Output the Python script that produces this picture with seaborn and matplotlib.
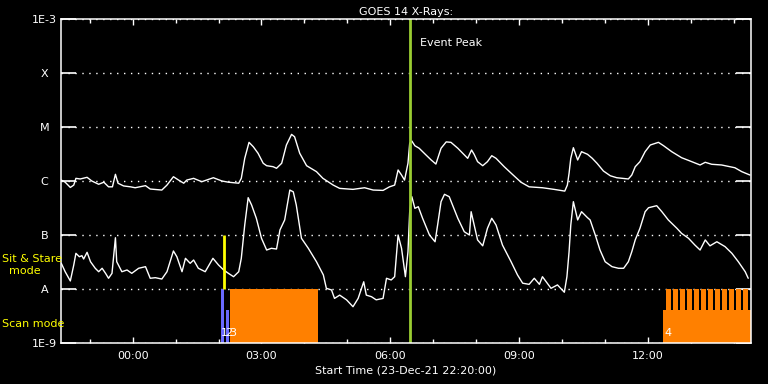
import numpy as np
import pandas as pd
import seaborn as sns
import matplotlib.pyplot as plt
from matplotlib.ticker import MultipleLocator

# times are hours after 00:00 on 24-Dec-21, flux in W/m^2
long_t = [-1.66, -1.57, -1.45, -1.37, -1.32, -1.22, -1.06, -0.95, -0.79, -0.67,
          -0.56, -0.47, -0.40, -0.34, -0.21, -0.05, 0.06, 0.30, 0.41, 0.68,
          0.80, 0.95, 1.07, 1.19, 1.26, 1.42, 1.61, 1.88, 2.08, 2.23,
          2.47, 2.53, 2.61, 2.71, 2.81, 2.92, 3.04, 3.12, 3.27, 3.35,
          3.47, 3.58, 3.70, 3.77, 3.89, 4.05, 4.28, 4.43, 4.67, 4.82,
          5.13, 5.40, 5.60, 5.83, 5.98, 6.10, 6.18, 6.26, 6.33, 6.41,
          6.45, 6.50, 6.57, 6.67, 6.83, 6.95, 7.06, 7.18, 7.30, 7.41,
          7.57, 7.80, 7.89, 7.95, 8.03, 8.15, 8.26, 8.36, 8.46, 8.65,
          8.84, 9.04, 9.23, 9.54, 9.81, 10.06, 10.12, 10.16, 10.20, 10.26,
          10.36, 10.45, 10.59, 10.70, 10.81, 10.96, 11.12, 11.27, 11.54, 11.62,
          11.70, 11.81, 11.93, 12.05, 12.24, 12.36, 12.55, 12.78, 12.98, 13.21,
          13.33, 13.48, 13.71, 14.02, 14.18, 14.37]
long_flux = [1.04e-6, 9.5e-7, 7.6e-7, 8.4e-7, 1.12e-6, 1.09e-6, 1.17e-6, 1.0e-6, 8.7e-7, 9.5e-7,
             7.8e-7, 7.8e-7, 1.33e-6, 9.1e-7, 8.1e-7, 7.8e-7, 7.5e-7, 8.2e-7, 7.1e-7, 6.8e-7,
             8.4e-7, 1.2e-6, 1.04e-6, 9.1e-7, 1.04e-6, 1.12e-6, 9.7e-7, 1.15e-6, 1.0e-6, 9.5e-7,
             9.1e-7, 1.12e-6, 2.63e-6, 5.2e-6, 4.3e-6, 3.26e-6, 2.13e-6, 1.92e-6, 1.84e-6, 1.72e-6,
             2.13e-6, 4.64e-6, 7.3e-6, 6.6e-6, 3.26e-6, 1.92e-6, 1.49e-6, 1.12e-6, 8.4e-7, 7.3e-7,
             7.0e-7, 7.5e-7, 6.8e-7, 6.7e-7, 7.8e-7, 8.4e-7, 1.6e-6, 1.29e-6, 1.04e-6, 2.13e-6,
             5.0e-6, 5.5e-6, 4.5e-6, 4.04e-6, 3.03e-6, 2.45e-6, 2.06e-6, 4.04e-6, 5.3e-6, 5.2e-6,
             4.04e-6, 2.63e-6, 3.75e-6, 3.12e-6, 2.28e-6, 1.92e-6, 2.28e-6, 2.94e-6, 2.63e-6, 1.84e-6,
             1.33e-6, 9.5e-7, 7.8e-7, 7.5e-7, 7.0e-7, 6.5e-7, 8.4e-7, 1.39e-6, 2.63e-6, 4.14e-6,
             2.45e-6, 3.49e-6, 3.12e-6, 2.63e-6, 2.13e-6, 1.53e-6, 1.25e-6, 1.15e-6, 1.09e-6, 1.29e-6,
             1.84e-6, 2.28e-6, 3.49e-6, 4.64e-6, 5.2e-6, 4.5e-6, 3.49e-6, 2.7e-6, 2.34e-6, 1.98e-6,
             2.22e-6, 2.04e-6, 1.98e-6, 1.76e-6, 1.49e-6, 1.29e-6]

short_t = [-1.66, -1.57, -1.45, -1.37, -1.32, -1.24, -1.18, -1.14, -1.06, -0.98,
           -0.87, -0.79, -0.71, -0.63, -0.56, -0.48, -0.40, -0.37, -0.25, -0.13,
           -0.02, 0.14, 0.30, 0.41, 0.53, 0.68, 0.80, 0.95, 1.03, 1.15,
           1.23, 1.34, 1.42, 1.53, 1.69, 1.87, 2.00, 2.12, 2.23, 2.35,
           2.47, 2.53, 2.61, 2.69, 2.77, 2.88, 3.00, 3.12, 3.23, 3.35,
           3.43, 3.54, 3.66, 3.74, 3.81, 3.93, 4.09, 4.28, 4.44, 4.51,
           4.63, 4.70, 4.82, 4.98, 5.13, 5.25, 5.38, 5.44, 5.56, 5.67,
           5.83, 5.91, 6.02, 6.10, 6.18, 6.26, 6.35, 6.41, 6.45, 6.50,
           6.57, 6.65, 6.75, 6.91, 7.04, 7.10, 7.18, 7.26, 7.37, 7.57,
           7.72, 7.84, 7.88, 7.95, 8.03, 8.15, 8.26, 8.36, 8.46, 8.61,
           8.81, 8.96, 9.08, 9.23, 9.35, 9.47, 9.54, 9.74, 9.89, 10.05,
           10.11, 10.16, 10.20, 10.26, 10.36, 10.45, 10.59, 10.65, 10.77, 10.88,
           11.00, 11.16, 11.31, 11.43, 11.54, 11.62, 11.70, 11.81, 11.93, 12.01,
           12.20, 12.32, 12.47, 12.67, 12.78, 12.94, 13.09, 13.21, 13.33, 13.44,
           13.60, 13.79, 13.95, 14.10, 14.26, 14.33]
short_flux = [2.99e-8, 2.09e-8, 1.41e-8, 2.78e-8, 4.58e-8, 3.96e-8, 4.14e-8, 3.59e-8, 4.78e-8, 3.2e-8,
              2.42e-8, 2.09e-8, 2.42e-8, 1.95e-8, 1.58e-8, 1.95e-8, 8.9e-8, 3.2e-8, 2.09e-8, 2.25e-8,
              1.95e-8, 2.42e-8, 2.59e-8, 1.58e-8, 1.62e-8, 1.53e-8, 2.09e-8, 5.06e-8, 3.96e-8, 2.09e-8,
              3.7e-8, 2.99e-8, 3.44e-8, 2.42e-8, 2.09e-8, 3.7e-8, 2.78e-8, 2.25e-8, 1.95e-8, 1.69e-8,
              2.09e-8, 3.7e-8, 1.53e-7, 4.91e-7, 3.59e-7, 2.04e-7, 8.7e-8, 5.27e-8, 5.67e-8, 5.5e-8,
              1.24e-7, 1.9e-7, 6.8e-7, 6.3e-7, 3.59e-7, 8.7e-8, 5.67e-8, 3.2e-8, 1.82e-8, 1.03e-8,
              9.6e-9, 6.7e-9, 7.7e-9, 6.3e-9, 4.7e-9, 6.7e-9, 1.36e-8, 7.7e-9, 7.2e-9, 6.3e-9,
              6.7e-9, 1.58e-8, 1.47e-8, 1.69e-8, 1.0e-7, 5.67e-8, 1.69e-8, 4.9e-8, 2.7e-7, 5.12e-7,
              3.12e-7, 3.34e-7, 2.04e-7, 1.0e-7, 7.5e-8, 1.53e-7, 4.14e-7, 5.67e-7, 5.12e-7, 2.04e-7,
              1.15e-7, 1.0e-7, 2.7e-7, 1.53e-7, 8.1e-8, 6.3e-8, 1.33e-7, 2.04e-7, 1.53e-7, 6.5e-8,
              3.2e-8, 1.82e-8, 1.28e-8, 1.22e-8, 1.58e-8, 1.22e-8, 1.69e-8, 1.03e-8, 1.19e-8, 8.7e-9,
              1.69e-8, 4.9e-8, 1.53e-7, 4.14e-7, 1.9e-7, 2.7e-7, 2.09e-7, 1.9e-7, 1.0e-7, 5.27e-8,
              3.2e-8, 2.59e-8, 2.42e-8, 2.42e-8, 3.2e-8, 4.9e-8, 8.1e-8, 1.33e-7, 2.7e-7, 3.2e-7,
              3.49e-7, 2.7e-7, 1.9e-7, 1.33e-7, 1.07e-7, 8.7e-8, 6.5e-8, 5.27e-8, 8.1e-8, 6.3e-8,
              7.5e-8, 6.1e-8, 4.58e-8, 3.2e-8, 2.09e-8, 1.58e-8]

peak_t = 6.465
sit_stare_t = 2.13

blue_start = [2.06, 2.18]
blue_width = [0.065, 0.06]
blue_top = [1e-8, 4.1e-9]

orange_start = [2.256, 12.35]
orange_end = [4.326, 14.40]
orange_top = [1e-8, 4.1e-9]

comb_start = [12.42, 12.58, 12.74, 12.91, 13.07, 13.23, 13.40, 13.56, 13.72, 13.88, 14.05, 14.21]
comb_width = 0.116

scan_labels = ["1", "2", "3", "4"]
scan_label_t = [2.13, 2.23, 2.33, 12.47]

level_vals = [1e-9, 1e-8, 1e-7, 1e-6, 1e-5, 1e-4, 1e-3]
level_labels = ["1E-9", "A", "B", "C", "M", "X", "1E-3"]
hour_ticks = [0, 3, 6, 9, 12]
hour_labels = ["00:00", "03:00", "06:00", "09:00", "12:00"]

sns.set_theme(style="dark", rc={
    "figure.facecolor": "black", "axes.facecolor": "black",
    "axes.edgecolor": "white", "text.color": "white",
    "xtick.color": "white", "ytick.color": "white",
})
plt.rcParams['font.family'] = ['DejaVu Sans']

fig = plt.figure(figsize=(7.68, 3.84), dpi=100)
ax = fig.add_axes([61/768, 1 - 343/384, 690/768, 324/384])
ax.set_yscale("log")

bot = 1e-9
ax.bar(orange_start, np.array(orange_top) - bot,
       width=np.array(orange_end) - np.array(orange_start),
       bottom=bot, align="edge", color="#FF8000", linewidth=0)
ax.bar(comb_start, 1e-8 - bot, width=comb_width, bottom=bot,
       align="edge", color="#FF8000", linewidth=0)
ax.bar(blue_start, np.array(blue_top) - bot, width=blue_width, bottom=bot,
       align="edge", color="#6A6AFF", linewidth=0)

df_long = pd.DataFrame({"t": long_t, "flux": long_flux})
df_short = pd.DataFrame({"t": short_t, "flux": short_flux})
sns.lineplot(data=df_long, x="t", y="flux", color="white", lw=1,
             estimator=None, sort=False, ax=ax)
sns.lineplot(data=df_short, x="t", y="flux", color="white", lw=1,
             estimator=None, sort=False, ax=ax)

ax.vlines(sit_stare_t, 1e-8, 1e-7, color="#FFFF00", lw=2)
ax.axvline(peak_t, color="#9ACD32", lw=2)
ax.text(peak_t + 0.23, 10**-3.45, "Event Peak", fontsize=8, color="white", va="center")

for s, tt in zip(scan_labels, scan_label_t):
    ax.text(tt, 1.5e-9, s, fontsize=8, color="white", ha="center", va="center")

ax.set_xlim(-1.667, 14.395)
ax.set_ylim(1e-9, 1e-3)

ax.set_yticks(level_vals)
ax.set_yticklabels(level_labels)
ax.yaxis.set_minor_locator(plt.NullLocator())
ax.tick_params(axis="y", which="major", direction="in", length=11, width=1.2,
               left=True, right=True, pad=12, labelsize=8)
for lab in ax.get_yticklabels():
    lab.set_horizontalalignment("center")

ax.set_xticks(hour_ticks)
ax.set_xticklabels(hour_labels)
ax.xaxis.set_minor_locator(MultipleLocator(1))
ax.tick_params(axis="x", which="major", direction="in", length=4.5, width=1,
               bottom=True, top=True, pad=6, labelsize=8)
ax.tick_params(axis="x", which="minor", direction="in", length=3, width=1,
               bottom=True, top=True)

ax.grid(False)
ax.yaxis.grid(True, which="major", color="white", linestyle=(0, (1, 4)), lw=1)
for sp in ax.spines.values():
    sp.set_color("white")
    sp.set_linewidth(1.1)

ax.set_xlabel("Start Time (23-Dec-21 22:20:00)", fontsize=8, color="white", labelpad=3)
ax.set_ylabel("")
ax.set_title("GOES 14 X-Rays:", fontsize=8, color="white", pad=3)

fig.text(2/768, 1 - 259/384, "Sit & Stare", fontsize=8, color="#FFFF00", va="center", ha="left")
fig.text(25/768, 1 - 271/384, "mode", fontsize=8, color="#FFFF00", va="center", ha="center")
fig.text(2/768, 1 - 324/384, "Scan mode", fontsize=8, color="#FFFF00", va="center", ha="left")

fig.savefig("out.png", dpi=100, facecolor="black")
